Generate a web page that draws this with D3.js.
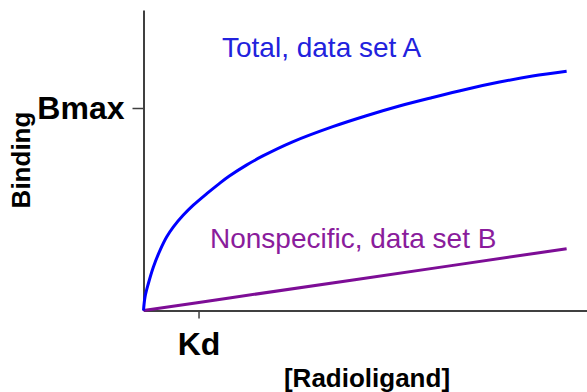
<!DOCTYPE html>
<html>
<head>
<meta charset="utf-8">
<script src="https://cdn.jsdelivr.net/npm/d3@7"></script>
<style>
  body { margin: 0; background: #fff; }
  svg { display: block; font-family: Arial, "Liberation Sans", sans-serif; }
</style>
</head>
<body>
<svg id="chart" width="587" height="392"></svg>
<script>
// values (x in units of Kd, y in units of Bmax)
const totalX = [0, 0.027, 0.087, 0.178, 0.30, 0.42, 0.54, 0.72, 0.905, 1.15, 1.36, 1.56, 1.87, 2.16, 2.71, 3.44, 4.05, 4.65, 5.25, 5.87, 6.47, 7.07, 7.69];
const totalY = [0, 0.066, 0.132, 0.214, 0.297, 0.363, 0.412, 0.470, 0.520, 0.577, 0.623, 0.664, 0.718, 0.762, 0.833, 0.908, 0.962, 1.010, 1.052, 1.093, 1.128, 1.158, 1.182];
const nonspecX = [0, 1.56, 3.84, 7.69];
const nonspecY = [0, 0.062, 0.152, 0.305];
const xTicks = [1];
const xTickLabels = ["Kd"];
const yTicks = [1];
const yTickLabels = ["Bmax"];

const svg = d3.select("#chart");

const x = d3.scaleLinear()
    .domain([0, 8.06])
    .range([143.5, 587]);

const y = d3.scaleLinear()
    .domain([0, 1.484])
    .range([310.5, 10]);

// y axis
svg.append("g")
    .attr("transform", `translate(${x(0)}, 0)`)
    .call(d3.axisLeft(y)
        .tickValues(yTicks)
        .tickFormat((d, i) => yTickLabels[i])
        .tickSize(11)
        .tickSizeOuter(0)
        .tickPadding(8));

// x axis
svg.append("g")
    .attr("transform", `translate(0, ${y(0)})`)
    .call(d3.axisBottom(x)
        .tickValues(xTicks)
        .tickFormat((d, i) => xTickLabels[i])
        .tickSize(8)
        .tickSizeOuter(0)
        .tickPadding(14));

svg.selectAll(".domain")
    .attr("stroke", "#404040")
    .attr("stroke-width", 2);
svg.selectAll(".tick line")
    .attr("stroke", "#404040")
    .attr("stroke-width", 1.5);
svg.selectAll(".tick text")
    .attr("fill", "#000")
    .attr("font-family", "Arial, 'Liberation Sans', sans-serif")
    .attr("font-weight", "bold")
    .attr("font-size", 32);

const line = d3.line()
    .x(d => x(d[0]))
    .y(d => y(d[1]))
    .curve(d3.curveCatmullRom.alpha(0.5));

svg.append("path")
    .datum(d3.zip(nonspecX, nonspecY))
    .attr("fill", "none")
    .attr("stroke", "#7d0d96")
    .attr("stroke-width", 3)
    .attr("d", line);

svg.append("path")
    .datum(d3.zip(totalX, totalY))
    .attr("fill", "none")
    .attr("stroke", "#0000ff")
    .attr("stroke-width", 3)
    .attr("d", line);

// curve labels
svg.append("text")
    .attr("x", 222)
    .attr("y", 57)
    .attr("fill", "#2222dd")
    .attr("font-size", 28)
    .text("Total, data set A");

svg.append("text")
    .attr("x", 210)
    .attr("y", 248)
    .attr("fill", "#8a1c9c")
    .attr("font-size", 28)
    .text("Nonspecific, data set B");

// axis titles
svg.append("text")
    .attr("x", 367)
    .attr("y", 387)
    .attr("text-anchor", "middle")
    .attr("font-weight", "bold")
    .attr("font-size", 26)
    .text("[Radioligand]");

svg.append("text")
    .attr("transform", "translate(30, 160) rotate(-90)")
    .attr("text-anchor", "middle")
    .attr("font-weight", "bold")
    .attr("font-size", 26)
    .text("Binding");
</script>
</body>
</html>
